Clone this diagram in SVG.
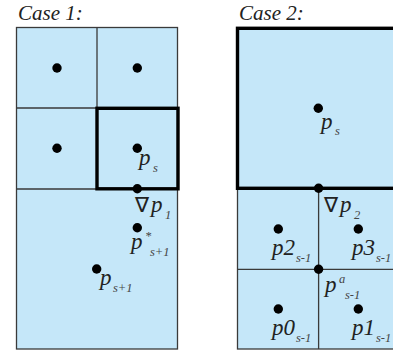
<svg xmlns="http://www.w3.org/2000/svg" width="393" height="350" viewBox="0 0 393 350">
<style>
.cell{fill:#c5e7f9;stroke:#3a3a3a;stroke-width:1.3}
.thin{stroke:#3a3a3a;stroke-width:1.3;fill:none}
.bold{fill:none;stroke:#000;stroke-width:3.4}
.dot{fill:#000}
.lbl{font-family:'Liberation Serif','Times New Roman',serif;font-style:italic;font-size:23px;fill:#222}
.ttl{font-size:21px}
.sub{font-size:12.5px;fill:#444}
.nab{font-style:normal;font-size:21px}
</style>
<rect width="393" height="350" fill="#fff"/>
<g id="case1">
  <rect class="cell" x="16.5" y="27.5" width="161" height="321.5"/>
  <path class="thin" d="M97 27.5V189M16.5 108H177.5M16.5 189H177.5"/>
  <rect class="bold" x="97" y="108.3" width="81" height="80.5"/>
  <g id="c1-dots">
    <circle class="dot" cx="57" cy="68" r="4.7"/>
    <circle class="dot" cx="137.3" cy="68" r="4.7"/>
    <circle class="dot" cx="57" cy="148.3" r="4.7"/>
    <circle class="dot" cx="137.3" cy="148.3" r="4.7"/>
    <circle class="dot" cx="137.3" cy="188.7" r="4.7"/>
    <circle class="dot" cx="137.3" cy="227.7" r="4.7"/>
    <circle class="dot" cx="96.7" cy="269" r="4.7"/>
  </g>
  <g id="c1-labels" class="lbl">
    <text class="lbl ttl" x="18" y="20">Case 1:</text>
    <text class="lbl" x="139" y="165">p<tspan class="sub" x="153" y="172">s</tspan></text>
    <text class="lbl" x="135" y="212"><tspan class="nab">∇</tspan><tspan x="151">p</tspan><tspan class="sub" x="165" y="219">1</tspan></text>
    <text class="lbl" x="131" y="249">p<tspan class="sub" x="145" y="240">*</tspan><tspan class="sub" x="150" y="256">s+1</tspan></text>
    <text class="lbl" x="100" y="285">p<tspan class="sub" x="113" y="292">s+1</tspan></text>
  </g>
</g>
<g id="case2">
  <rect class="cell" x="237.5" y="28.3" width="162" height="320.7"/>
  <path class="thin" d="M318.6 188V349M237.5 269.3H399"/>
  <rect class="bold" x="237.5" y="28.3" width="162" height="160"/>
  <g id="c2-dots">
    <circle class="dot" cx="318.3" cy="108.3" r="4.7"/>
    <circle class="dot" cx="318.6" cy="188.3" r="4.7"/>
    <circle class="dot" cx="278.3" cy="229" r="4.7"/>
    <circle class="dot" cx="358.3" cy="229" r="4.7"/>
    <circle class="dot" cx="318.6" cy="269.3" r="4.7"/>
    <circle class="dot" cx="278.3" cy="309" r="4.7"/>
    <circle class="dot" cx="358.3" cy="309" r="4.7"/>
  </g>
  <g id="c2-labels" class="lbl">
    <text class="lbl ttl" x="239" y="20">Case 2:</text>
    <text class="lbl" x="321" y="129">p<tspan class="sub" x="335" y="135">s</tspan></text>
    <text class="lbl" x="324" y="212"><tspan class="nab">∇</tspan><tspan x="340">p</tspan><tspan class="sub" x="354" y="219">2</tspan></text>
    <text class="lbl" x="272" y="255">p2<tspan class="sub" x="296" y="262">s-1</tspan></text>
    <text class="lbl" x="352" y="255">p3<tspan class="sub" x="376" y="262">s-1</tspan></text>
    <text class="lbl" x="325" y="292">p<tspan class="sub" x="339" y="283">a</tspan><tspan class="sub" x="345" y="299">s-1</tspan></text>
    <text class="lbl" x="272" y="335">p0<tspan class="sub" x="296" y="342">s-1</tspan></text>
    <text class="lbl" x="352" y="335">p1<tspan class="sub" x="376" y="342">s-1</tspan></text>
  </g>
</g>
<g id="connectors"/>
</svg>
